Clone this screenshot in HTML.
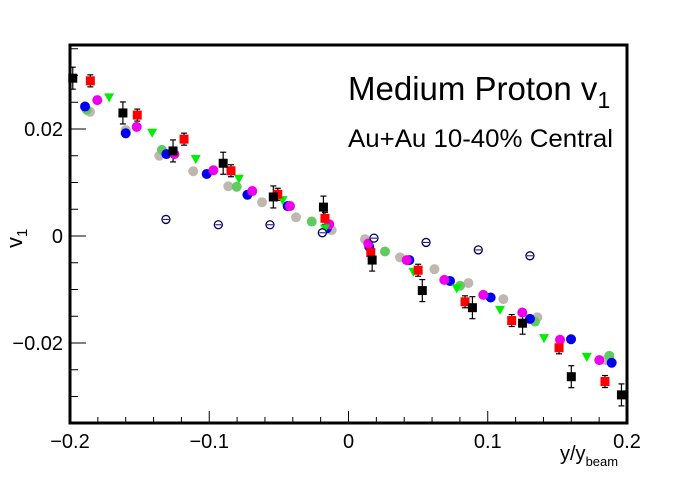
<!DOCTYPE html>
<html><head><meta charset="utf-8"><style>
body{margin:0;background:#fff}
svg text{font-family:"Liberation Sans",sans-serif}
</style></head><body>
<svg id="c" width="696" height="472" xmlns="http://www.w3.org/2000/svg"></svg>
<script>
const blackX=[-0.198,-0.162,-0.126,-0.090,-0.054,-0.018,0.017,0.053,0.089,0.125,0.160,0.196];
const blackY=[0.0295,0.0230,0.0159,0.0136,0.0073,0.0054,-0.0045,-0.0102,-0.0134,-0.0163,-0.0263,-0.0297];
const redX=[-0.1854,-0.1517,-0.1181,-0.0844,-0.0508,-0.0169,0.016,0.050,0.0837,0.1172,0.1512,0.1842];
const redY=[0.0290,0.0226,0.0181,0.0122,0.0078,0.0033,-0.0031,-0.0064,-0.0123,-0.0158,-0.0209,-0.0272];
const greenX=[-0.1719,-0.1410,-0.1097,-0.0787,-0.0473,-0.0169,0.0466,0.0777,0.1088,0.1404,0.1711];
const greenY=[0.0259,0.0193,0.0144,0.0107,0.0067,0.0014,-0.0067,-0.0098,-0.0138,-0.0191,-0.0226];
const magX=[-0.1804,-0.1521,-0.1250,-0.0970,-0.0691,-0.0420,-0.0138,0.0142,0.0418,0.0688,0.0968,0.1248,0.1519,0.1801];
const magY=[0.0254,0.0204,0.0153,0.0123,0.0084,0.0056,0.0022,-0.0014,-0.0045,-0.0082,-0.0110,-0.0143,-0.0194,-0.0232];
const blueX=[-0.1892,-0.1600,-0.1308,-0.1018,-0.0726,-0.0437,-0.0156,0.0149,0.0437,0.0729,0.1021,0.1303,0.1598,0.1890];
const blueY=[0.0242,0.0192,0.0153,0.0116,0.0077,0.0056,0.0014,-0.0020,-0.0045,-0.0084,-0.0115,-0.0155,-0.0193,-0.0237];
const lgX=[-0.188,-0.134,-0.0803,-0.0264,0.0262,0.0801,0.1339,0.1873];
const lgY=[0.0236,0.0161,0.0092,0.0027,-0.0029,-0.0093,-0.0160,-0.0224];
const grayX=[-0.1856,-0.1600,-0.1359,-0.1115,-0.0863,-0.0621,-0.0377,-0.0121,0.0118,0.0370,0.0617,0.0861,0.1112,0.1356,0.1598,0.1849];
const grayY=[0.0232,0.0198,0.0150,0.0121,0.0093,0.0063,0.0035,0.0011,-0.0006,-0.0040,-0.0062,-0.0088,-0.0118,-0.0152,-0.0193,-0.0232];
const openX=[-0.1311,-0.0935,-0.0564,-0.0188,0.0183,0.0557,0.0932,0.1303];
const openY=[0.0031,0.0021,0.0021,0.0006,-0.0004,-0.0012,-0.0026,-0.0037];
const xTicks=[-0.2,-0.1,0,0.1,0.2];
const xTickLabels=["\u22120.2","\u22120.1","0","0.1","0.2"];
const yTicks=[0.02,0,-0.02];
const yTickLabels=["0.02","0","\u22120.02"];

const L=70,R=627,T=45,B=423;
const sx=v=>348.5+v*1392.5;
const sy=v=>236-v*5350;
const svg=document.getElementById('c');
const NS='http://www.w3.org/2000/svg';
function mk(tag,attrs,parent){const e=document.createElementNS(NS,tag);for(const k in attrs)e.setAttribute(k,attrs[k]);(parent||svg).appendChild(e);return e;}

const ax=mk('g',{});


for(let v=-0.2;v<=0.2001;v+=0.02){const x=sx(v);const major=Math.abs(Math.round(v*10)-v*10)<1e-6;const len=major?12:6;
 mk('line',{x1:x,x2:x,y1:B,y2:B-len,stroke:'#000','stroke-width':1},ax);}
for(let v=-0.035;v<=0.0351;v+=0.005){const y=sy(v);if(y<T||y>B)continue;const major=Math.abs(Math.round(v*50)-v*50)<1e-6;const len=major?16:8;
 mk('line',{x1:L,x2:L+len,y1:y,y2:y,stroke:'#000','stroke-width':1},ax);}
xTicks.forEach((v,i)=>{const t=mk('text',{x:sx(v),y:448,'font-size':20,'text-anchor':'middle'},ax);t.textContent=xTickLabels[i];
 
 });
yTicks.forEach((v,i)=>{const t=mk('text',{x:63,y:sy(v)+7,'font-size':20,'text-anchor':'end'},ax);t.textContent=yTickLabels[i];
 
 });

function errs(X,Y,e){X.forEach((x,i)=>{const px=sx(x),py=sy(Y[i]);mk('line',{x1:px,x2:px,y1:py-e,y2:py+e,stroke:'#000','stroke-width':1.2});
 mk('line',{x1:px-3,x2:px+3,y1:py-e,y2:py-e,stroke:'#000','stroke-width':1.2});mk('line',{x1:px-3,x2:px+3,y1:py+e,y2:py+e,stroke:'#000','stroke-width':1.2});});}
errs(blackX,blackY,11);errs(redX,redY,6);

function circles(X,Y,col,name){X.forEach((x,i)=>{const c=mk('circle',{cx:sx(x),cy:sy(Y[i]),r:5,fill:col});
 
 });}
function squares(X,Y,col,name){X.forEach((x,i)=>{const r=mk('rect',{x:sx(x)-4.5,y:sy(Y[i])-4.5,width:9,height:9,fill:col});
 
 });}
circles(grayX,grayY,'#c0b8b0','gray-point');
circles(lgX,lgY,'#60cc60','lightgreen-point');
circles(blueX,blueY,'#0000ee','blue-point');
circles(magX,magY,'#ee00ee','magenta-point');
greenX.forEach((x,i)=>{const px=sx(x),py=sy(greenY[i]);const p=mk('polygon',{points:`${px-5},${py-4} ${px+5},${py-4} ${px},${py+5}`,fill:'#00ee00'});
 
 });
squares(redX,redY,'#ff0000','red-square');
squares(blackX,blackY,'#000','black-square');
openX.forEach((x,i)=>{const px=sx(x),py=sy(openY[i]);const c=mk('circle',{cx:px,cy:py,r:4,fill:'#fff',stroke:'#000050','stroke-width':1.3});
 
 
 mk('line',{x1:px-3,x2:px+3,y1:py,y2:py,stroke:'#0000aa','stroke-width':1});});

mk('rect',{x:L,y:T,width:R-L,height:B-T,fill:'none',stroke:'#000','stroke-width':3});
</script>
<svg width="696" height="472" style="position:absolute;left:0;top:0">
<text x="348" y="100" font-size="33">Medium Proton v<tspan font-size="23" dy="8">1</tspan></text>
<text x="348" y="147" font-size="25" textLength="265" lengthAdjust="spacingAndGlyphs">Au+Au 10-40% Central</text>
<text x="22" y="248" font-size="22" transform="rotate(-90 22 248)">v<tspan font-size="15" dy="5">1</tspan></text>
<text x="560" y="460" font-size="20">y/y<tspan font-size="13" dy="6">beam</tspan></text>
</svg>
</body></html>
